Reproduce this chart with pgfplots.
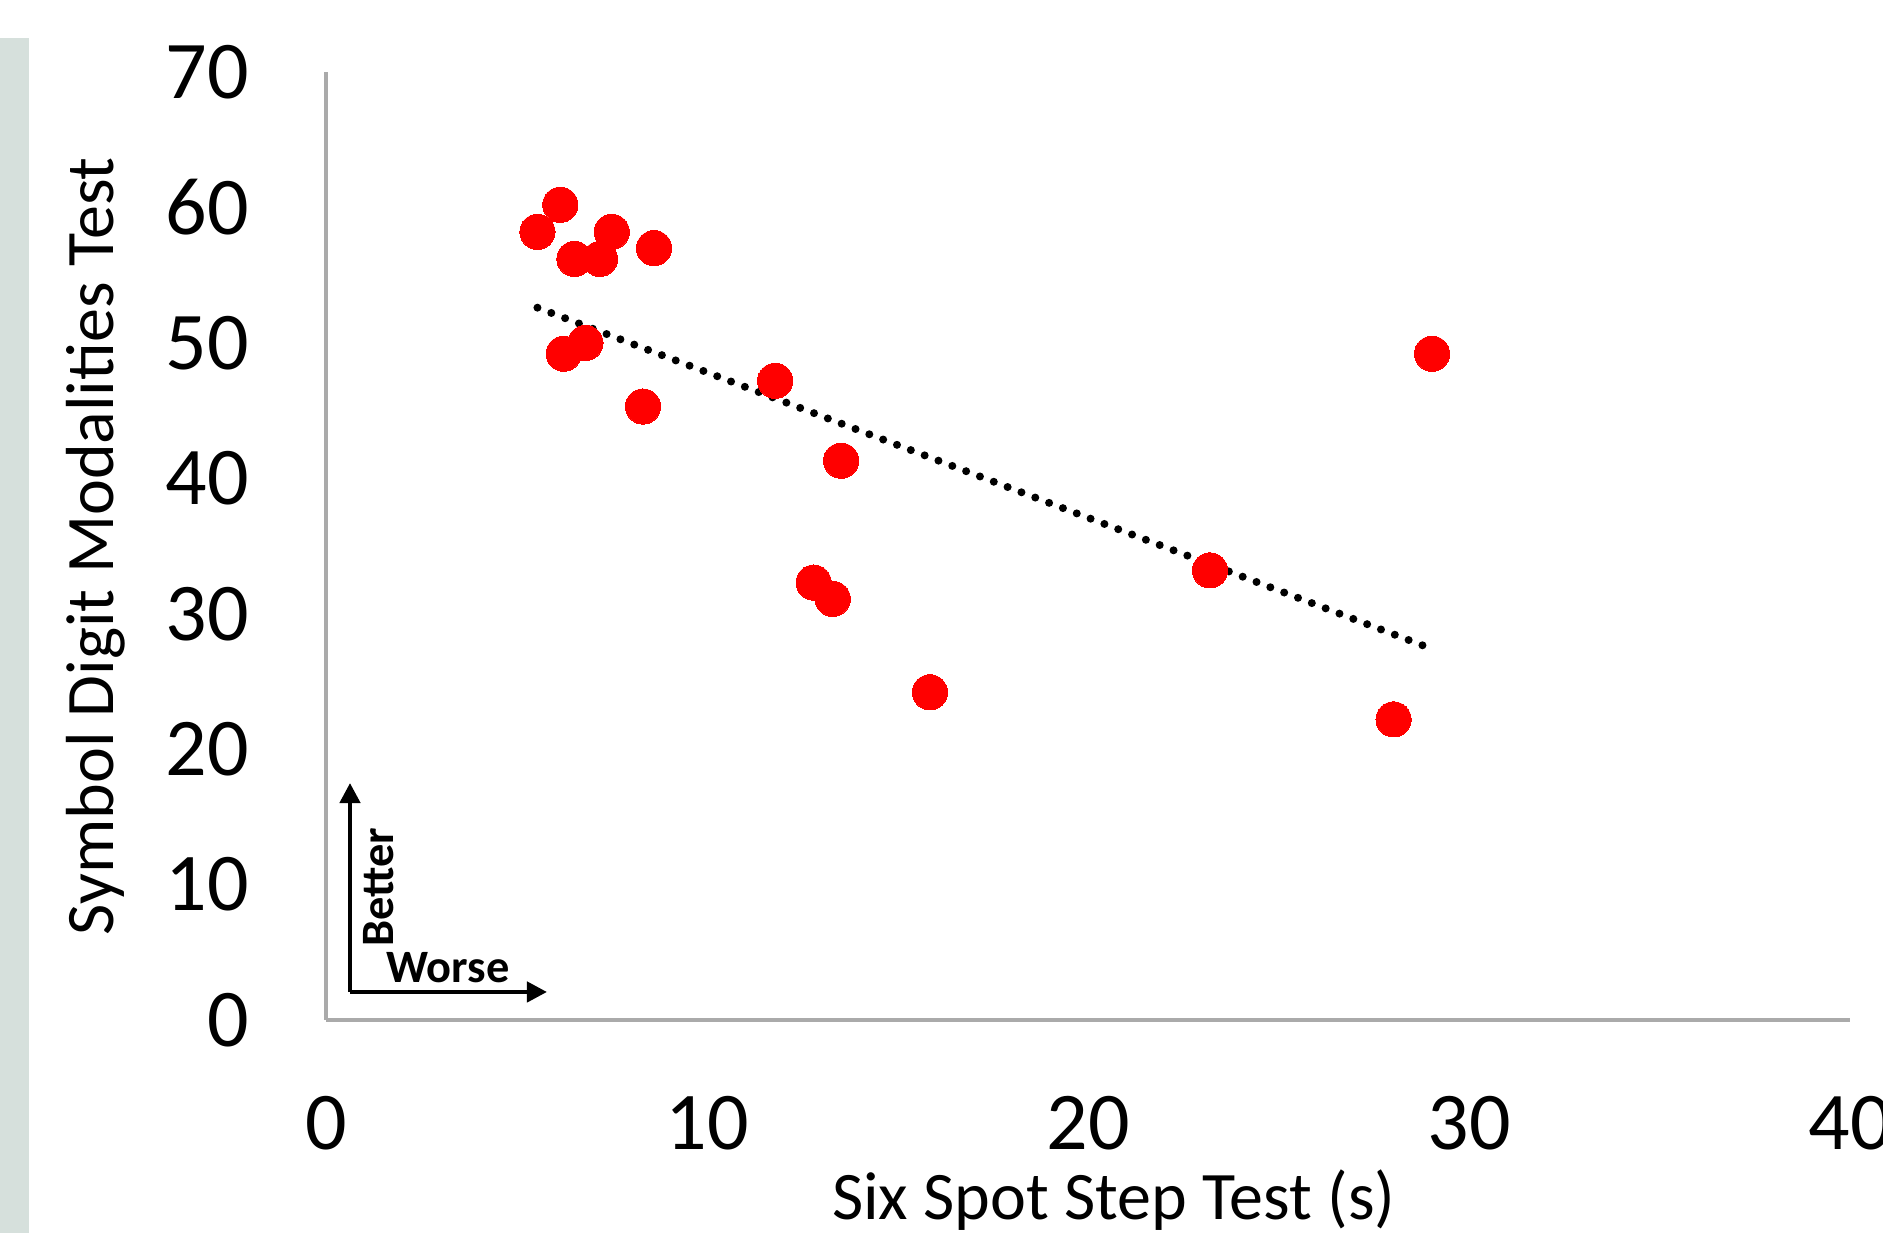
\documentclass[border=0pt]{standalone}
\usepackage{pgfplots}
\pgfplotsset{compat=1.18}
\usepackage{fontspec}
\setmainfont{Carlito}
\usetikzlibrary{arrows.meta}
\definecolor{stripgray}{RGB}{214,224,220}
\definecolor{axgray}{RGB}{170,170,170}
\begin{document}
\begin{tikzpicture}
\useasboundingbox (-81.5pt,-53.25pt) rectangle (389.25pt,255pt);
\fill[stripgray] (-81.5pt,-53.25pt) rectangle (-74.25pt,245.5pt);
\begin{axis}[
  at={(0,0)}, anchor=origin,
  scale only axis,
  width=381pt, height=237pt,
  xmin=0, xmax=40, ymin=0, ymax=70,
  xtick={0,10,20,30,40},
  ytick={0,10,20,30,40,50,60,70},
  axis x line*=bottom, axis y line*=left,
  axis line style={draw=axgray, line width=1pt, -},
  tick style={draw=none},
  /pgf/number format/assume math mode=true,
  ticklabel style={font=\fontsize{20.5}{24}\selectfont},
  yticklabel style={anchor=east, xshift=-15.8pt},
  xticklabel style={anchor=north, yshift=-15.5pt},
  xlabel={Six Spot Step Test (s)},
  ylabel={Symbol Digit Modalities Test},
  label style={font=\fontsize{17}{20}\selectfont},
  xlabel style={at={(axis description cs:0.517,-0.19)}, anchor=center},
  ylabel style={at={(axis description cs:-0.151,0.5)}, anchor=center},
  clip=false,
]
\addplot[only marks, color=red, mark=*, mark size=4.4pt, mark options={fill=red, draw=red, line width=0pt}] coordinates {
(5.55,58.2) (6.15,60.2) (6.52,56.2) (7.19,56.2) (7.50,58.2) (8.61,57.0)
(6.24,49.2) (6.81,50.0) (8.32,45.3) (11.79,47.2) (13.52,41.3)
(12.80,32.3) (13.30,31.1) (15.85,24.2) (23.2,33.2) (28.02,22.2) (29.03,49.2)
};
\addplot[black, line width=2pt, line cap=round, dash pattern=on 0pt off 3.7pt] coordinates {(5.55,52.6) (29.03,27.4)};
\draw[black, line width=1.1pt, -{Triangle[length=5pt,width=5pt]}] (axis cs:0.63,2.07) -- (axis cs:0.63,17.5);
\draw[black, line width=1.1pt, -{Triangle[length=5pt,width=5pt]}] (axis cs:0.63,2.07) -- (axis cs:5.8,2.07);
\node[rotate=90, font=\bfseries\fontsize{11.6}{13}\selectfont, inner sep=0pt] at (axis cs:1.37,9.8) {Better};
\node[font=\bfseries\fontsize{11.6}{13}\selectfont, inner sep=0pt] at (axis cs:3.2,3.9) {Worse};
\end{axis}
\end{tikzpicture}
\end{document}
